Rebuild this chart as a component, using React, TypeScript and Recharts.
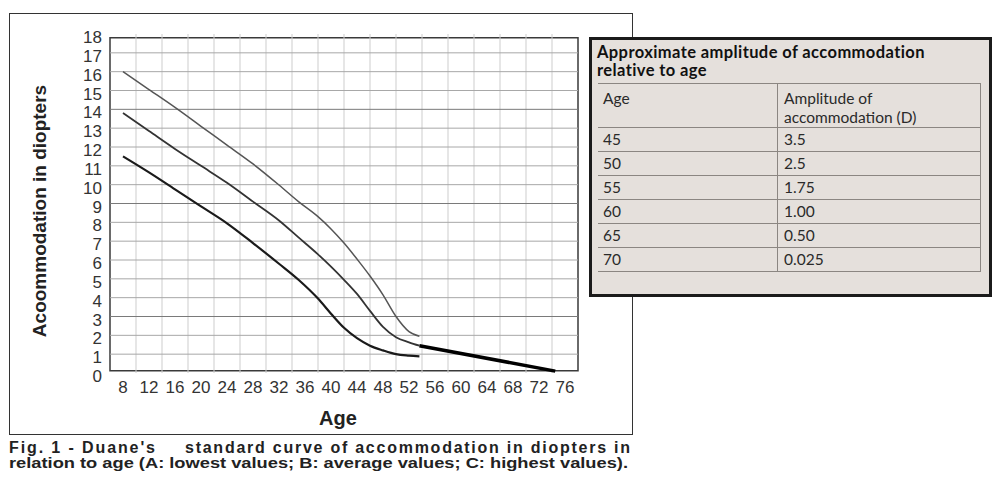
import React from 'react';
import { LineChart, Line, XAxis, YAxis, ReferenceLine, ReferenceArea } from 'recharts';

// ---- axis / grid values ----
const ageTicks = [8, 12, 16, 20, 24, 28, 32, 36, 40, 44, 48, 52, 56, 60, 64, 68, 72, 76];
const valueTicks = [0, 1, 2, 3, 4, 5, 6, 7, 8, 9, 10, 11, 12, 13, 14, 15, 16, 17, 18];
const gridAges = [10, 14, 18, 22, 26, 30, 34, 38, 42, 46, 50, 54, 58, 62, 66, 70, 74];
const gridValues = [1, 2, 3, 4, 5, 6, 7, 8, 9, 10, 11, 12, 13, 14, 15, 16, 17];
const darkGridValues = [3, 9, 14];

// ---- series C: highest values ----
const highestAges = [8, 12, 16, 20, 24, 28, 32, 35, 38, 40, 42, 44, 46, 48, 50, 52, 53.6];
const highestValues = [16.0, 15.05, 14.1, 13.1, 12.1, 11.1, 9.98, 9.1, 8.3, 7.65, 6.9, 6.05, 5.15, 4.15, 3.0, 2.2, 1.95];

// ---- series B: average values ----
const averageAges = [8, 12, 16, 20, 24, 28, 32, 35, 38, 40, 42, 44, 46, 48, 50, 52, 53.6];
const averageValues = [13.8, 12.85, 11.9, 11.0, 10.1, 9.1, 8.1, 7.2, 6.3, 5.65, 4.95, 4.2, 3.3, 2.45, 1.9, 1.63, 1.45];

// ---- series A: lowest values ----
const lowestAges = [8, 12, 16, 20, 24, 28, 32, 35, 38, 40, 42, 44, 46, 48, 50, 52, 53.6];
const lowestValues = [11.5, 10.65, 9.75, 8.85, 7.95, 6.9, 5.8, 4.95, 3.95, 3.15, 2.4, 1.85, 1.45, 1.2, 1.0, 0.92, 0.88];

// ---- straight extension ----
const extensionAges = [53.6, 74.5];
const extensionValues = [1.45, 0.1];

// ---- table ----
const tableTitle = ['Approximate amplitude of accommodation', 'relative to age'];
const tableHeaderAge = 'Age';
const tableHeaderAmplitude = ['Amplitude of', 'accommodation (D)'];
const tableAges = ['45', '50', '55', '60', '65', '70'];
const tableAmplitudes = ['3.5', '2.5', '1.75', '1.00', '0.50', '0.025'];

// ---- caption ----
const captionLead = "Fig. 1 - Duane's";
const captionRest1 = 'standard curve of accommodation in diopters in';
const captionLine2 = 'relation to age (A: lowest values; B: average values; C: highest values).';

const toPoints = (ages: number[], values: number[]) => ages.map((age, i) => ({ age, v: values[i] }));

const ARIAL = '"Liberation Sans", Arial, Helvetica, sans-serif';
const TABLE_FONT = 'Lato, "Open Sans", sans-serif';
const LINE_COLOR = '#8b8682';

export default function App() {
  const tickStyle = { fill: '#333', fontSize: 17, fontFamily: ARIAL };
  return (
    <div style={{ position: 'absolute', left: 0, top: 0, width: 1000, height: 483, background: '#fff', overflow: 'hidden' }}>
      {/* outer figure frame */}
      <div style={{ position: 'absolute', left: 9, top: 13, width: 624, height: 422, border: '1px solid #333', boxSizing: 'border-box' }} />

      <div style={{ position: 'absolute', left: 0, top: 0 }}>
        <LineChart width={640} height={440} margin={{ top: 34, right: 62, left: 50, bottom: 37 }}>
          <XAxis
            dataKey="age"
            type="number"
            domain={[6, 78]}
            ticks={ageTicks}
            interval={0}
            axisLine={false}
            tickLine={false}
            height={30}
            tick={tickStyle}
          />
          <YAxis
            type="number"
            domain={[0, 18]}
            ticks={valueTicks}
            interval={0}
            axisLine={false}
            tickLine={false}
            width={60}
            tick={{ ...tickStyle, dy: 3 }}
          />
          {gridAges.map((a) => (
            <ReferenceLine key={'vx' + a} x={a} stroke="#cdcdcd" strokeWidth={1} />
          ))}
          {gridValues.map((v) => (
            <ReferenceLine
              key={'hy' + v}
              y={v}
              stroke={darkGridValues.includes(v) ? '#7a7a7a' : '#a8a8a8'}
              strokeWidth={1}
            />
          ))}
          <ReferenceArea x1={6} x2={78} y1={0.12} y2={17.8} fill="none" fillOpacity={0} stroke="#3a3a3a" strokeWidth={1.5} />
          <Line data={toPoints(highestAges, highestValues)} dataKey="v" type="monotone" stroke="#555" strokeWidth={1.5} dot={false} isAnimationActive={false} />
          <Line data={toPoints(averageAges, averageValues)} dataKey="v" type="monotone" stroke="#333" strokeWidth={1.8} dot={false} isAnimationActive={false} />
          <Line data={toPoints(lowestAges, lowestValues)} dataKey="v" type="monotone" stroke="#1a1a1a" strokeWidth={2.2} dot={false} isAnimationActive={false} />
          <Line data={toPoints(extensionAges, extensionValues)} dataKey="v" type="linear" stroke="#000" strokeWidth={3.5} dot={false} isAnimationActive={false} />
        </LineChart>
      </div>

      {/* axis titles */}
      <div style={{ position: 'absolute', left: 338, top: 418, transform: 'translate(-50%, -50%)', fontFamily: ARIAL, fontWeight: 'bold', fontSize: 20, color: '#222', whiteSpace: 'nowrap' }}>Age</div>
      <div style={{ position: 'absolute', left: 40, top: 211, transform: 'translate(-50%, -50%) rotate(-90deg)', fontFamily: ARIAL, fontWeight: 'bold', fontSize: 19, color: '#222', whiteSpace: 'nowrap' }}>Acoommodation in diopters</div>

      {/* caption */}
      <svg style={{ position: 'absolute', left: 0, top: 436 }} width={640} height={40}>
        <g fontFamily={ARIAL} fontWeight="bold" fill="#222">
          <text x={9} y={16.5} fontSize={16} textLength={146} lengthAdjust="spacing">{captionLead}</text>
          <text x={185} y={16.5} fontSize={16} textLength={445} lengthAdjust="spacing">{captionRest1}</text>
          <text x={9} y={32.3} fontSize={15} textLength={619} lengthAdjust="spacingAndGlyphs">{captionLine2}</text>
        </g>
      </svg>

      {/* table box */}
      <div style={{ position: 'absolute', left: 589, top: 37, width: 403, height: 260, border: '3px solid #1b1b1b', background: '#e5e0dc', boxSizing: 'border-box' }}>
        <div style={{ position: 'absolute', left: 5, top: 3, fontFamily: TABLE_FONT, fontWeight: 'bold', fontSize: 16.5, letterSpacing: 0.4, lineHeight: '18px', color: '#111', whiteSpace: 'nowrap' }}>
          {tableTitle.map((t, i) => (
            <div key={i}>{t}</div>
          ))}
        </div>
        <div style={{ position: 'absolute', left: 6, top: 43, width: 383, fontFamily: TABLE_FONT, fontSize: 15.5, color: '#2a2a2a', borderTop: '1px solid ' + LINE_COLOR }}>
          <div style={{ display: 'flex', height: 44, borderBottom: '1px solid ' + LINE_COLOR, boxSizing: 'border-box' }}>
            <div style={{ width: 180, borderRight: '1px solid ' + LINE_COLOR, paddingLeft: 5, paddingTop: 5, lineHeight: '19px', boxSizing: 'border-box' }}>{tableHeaderAge}</div>
            <div style={{ flex: 1, borderRight: '1px solid ' + LINE_COLOR, paddingLeft: 6, paddingTop: 5, lineHeight: '19px', boxSizing: 'border-box' }}>
              {tableHeaderAmplitude.map((t, i) => (
                <div key={i}>{t}</div>
              ))}
            </div>
          </div>
          {tableAges.map((a, i) => (
            <div key={a} style={{ display: 'flex', height: 24, borderBottom: '1px solid ' + LINE_COLOR, boxSizing: 'border-box', lineHeight: '23px' }}>
              <div style={{ width: 180, borderRight: '1px solid ' + LINE_COLOR, paddingLeft: 5, boxSizing: 'border-box' }}>{a}</div>
              <div style={{ flex: 1, borderRight: '1px solid ' + LINE_COLOR, paddingLeft: 6, boxSizing: 'border-box' }}>{tableAmplitudes[i]}</div>
            </div>
          ))}
        </div>
      </div>
    </div>
  );
}
